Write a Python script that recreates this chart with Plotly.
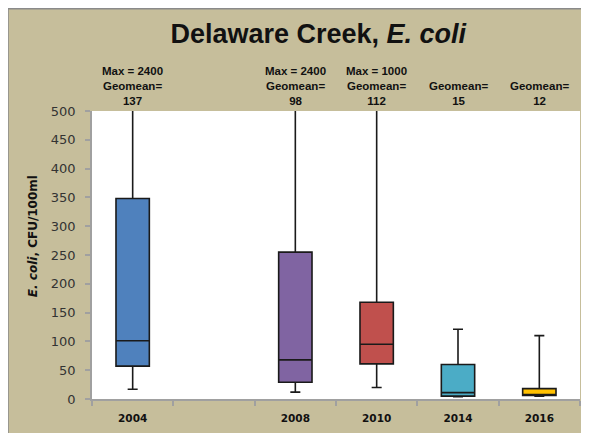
import plotly.graph_objects as go

categories = ["2004", "", "2008", "2010", "2014", "2016"]
years = ["2004", "2008", "2010", "2014", "2016"]
positions = [0, 2, 3, 4, 5]
q1 = [57, 29, 61, 5, 6]
median = [101, 68, 95, 11, 6]
q3 = [348, 255, 168, 60, 18]
lowerfence = [17, 12, 20, 4, 5]
upperfence = [2400, 2400, 1000, 121, 110]
colors = ["#4F81BD", "#8064A2", "#C0504D", "#4BACC6", "#FFC000"]
notes = ["Max = 2400<br>Geomean=<br>137", "Max = 2400<br>Geomean=<br>98",
         "Max = 1000<br>Geomean=<br>112", "Geomean=<br>15", "Geomean=<br>12"]
y_ticks = list(range(0, 501, 50))

TAN = "#C6BE9B"
SANS = "Liberation Sans, Arial, sans-serif"
VERD = "DejaVu Sans, Verdana, sans-serif"

fig = go.Figure()
for i in range(len(years)):
    fig.add_trace(go.Box(
        x=[positions[i]], q1=[q1[i]], median=[median[i]], q3=[q3[i]],
        lowerfence=[lowerfence[i]], upperfence=[upperfence[i]],
        fillcolor=colors[i], line=dict(color="#1a1a1a", width=1.6),
        width=0.41, whiskerwidth=0.3, boxpoints=False, showlegend=False,
        name=years[i],
    ))

for i in range(len(years)):
    fig.add_annotation(x=positions[i], y=1, xref="x", yref="paper",
                       yanchor="bottom", yshift=2, text="<b>" + notes[i] + "</b>",
                       showarrow=False, align="center",
                       font=dict(family=SANS, size=11.5, color="#111111"))

# y-axis title
fig.add_annotation(x=-59 / 488, y=(401 - 237) / 290, xref="paper", yref="paper",
                   text="<b><i>E. coli</i>, CFU/100ml</b>", textangle=-90, showarrow=False,
                   xanchor="center", yanchor="middle",
                   font=dict(family=VERD, size=12, color="#111111"))

# slide border
fig.add_shape(type="rect", xref="paper", yref="paper",
              x0=-84 / 488, x1=1.3, y0=-0.3, y1=1 + 103 / 290,
              fillcolor="rgba(0,0,0,0)", line=dict(color="#8a8a8a", width=1.5), layer="below")

fig.update_layout(
    width=581, height=425,
    margin=dict(l=84, r=9, t=103, b=32),
    paper_bgcolor=TAN, plot_bgcolor="white",
    title=dict(text="<b>Delaware Creek, <i>E. coli</i></b>", x=0.534, xanchor="center",
               y=0.941, yanchor="middle",
               font=dict(family=SANS, size=27, color="#111111")),
    xaxis=dict(range=[-0.5, 5.5], tickvals=list(range(len(categories))), ticktext=categories,
               ticks="", showgrid=False, zeroline=False, showline=True,
               linecolor="#a0a0a0", linewidth=1.5, ticklabelstandoff=9,
               tickfont=dict(family=VERD, size=10.5, color="#111111", weight="bold"),
               minor=dict(tickvals=[k - 0.5 for k in range(len(categories) + 1)],
                          ticks="outside", ticklen=5, tickcolor="#a0a0a0", tickwidth=1.5)),
    yaxis=dict(range=[0, 500], tickvals=y_ticks, ticks="outside", ticklen=5,
               tickcolor="#a0a0a0", tickwidth=1.5, showgrid=False, zeroline=False, showline=True,
               linecolor="#a0a0a0", linewidth=1.5, ticklabelstandoff=7,
               tickfont=dict(family=VERD, size=13, color="#333333")),
)

fig.write_html("out.html")
